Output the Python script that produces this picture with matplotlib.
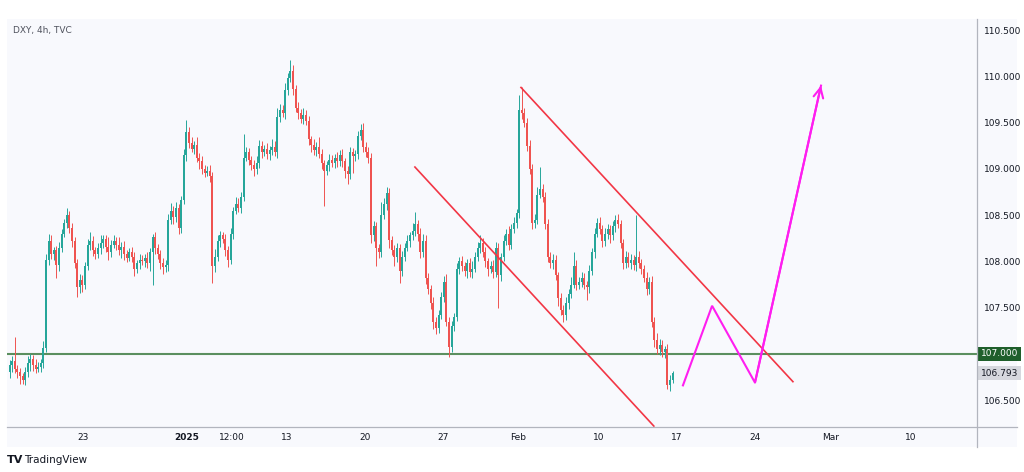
import matplotlib
matplotlib.use("Agg")
import numpy as np
import matplotlib.pyplot as plt
from matplotlib.lines import Line2D

# DXY, 4h candles (bar index on x, weekend gaps removed as on TradingView)
first_open = 106.80
closes = [
    106.88, 106.92, 106.84, 106.80, 106.76, 106.72, 106.80, 106.90, 106.95, 106.88,
    106.84, 106.86, 106.90, 107.06, 108.02, 108.22, 108.08, 108.12, 107.96, 108.15,
    108.30, 108.42, 108.50, 108.36, 108.22, 107.98, 107.72, 107.80, 107.75, 107.95,
    108.18, 108.22, 108.12, 108.08, 108.14, 108.20, 108.24, 108.16, 108.10, 108.18,
    108.22, 108.18, 108.12, 108.16, 108.08, 108.04, 108.10, 108.05, 107.92, 107.98,
    108.02, 108.00, 108.04, 107.98, 108.10, 108.26, 108.14, 108.08, 107.98, 107.94,
    107.96, 108.45, 108.55, 108.48, 108.58, 108.36, 108.66, 109.15, 109.40, 109.28,
    109.22, 109.26, 109.12, 109.08, 109.00, 108.96, 108.98, 108.92, 107.95, 108.05,
    108.22, 108.28, 108.24, 108.12, 108.02, 108.30, 108.55, 108.62, 108.58, 108.70,
    109.12, 109.18, 109.10, 109.04, 109.00, 109.06, 109.25, 109.18, 109.22, 109.16,
    109.20, 109.24, 109.18, 109.56, 109.64, 109.60, 109.85, 109.98, 110.06, 109.86,
    109.66, 109.60, 109.54, 109.58, 109.52, 109.32, 109.26, 109.20, 109.24, 109.16,
    109.06, 108.98, 109.04, 109.10, 109.06, 109.12, 109.08, 109.15, 109.08, 108.98,
    108.94, 109.18, 109.14, 109.16, 109.35, 109.42, 109.24, 109.18, 109.12, 108.28,
    108.38, 108.15, 108.10, 108.50, 108.62, 108.74, 108.23, 108.12, 108.05, 108.15,
    107.90, 108.05, 108.15, 108.22, 108.28, 108.33, 108.40, 108.30, 108.10, 108.22,
    107.82, 107.70, 107.55, 107.35, 107.28, 107.42, 107.62, 107.78, 107.35, 107.08,
    107.30, 107.40, 107.92, 108.00, 107.95, 107.90, 107.98, 107.88, 107.92, 108.05,
    108.15, 108.20, 108.10, 108.00, 107.92, 107.95, 107.88, 108.15, 107.85, 108.05,
    108.22, 108.30, 108.18, 108.35, 108.42, 108.52, 109.64, 109.60, 109.50, 109.25,
    109.00, 108.42, 108.45, 108.72, 108.78, 108.70, 108.40, 108.05, 107.98, 108.02,
    107.85, 107.60, 107.48, 107.42, 107.55, 107.65, 107.75, 107.95, 107.75, 107.78,
    107.82, 107.75, 107.72, 107.90, 108.10, 108.30, 108.42, 108.35, 108.22, 108.30,
    108.35, 108.28, 108.38, 108.45, 108.40, 108.20, 107.98, 108.05, 107.98, 108.02,
    107.96, 108.05, 107.98, 107.92, 107.82, 107.70, 107.78, 107.35, 107.15, 107.05,
    107.10, 107.02, 107.05, 106.66, 106.72, 106.793,
]
# wick lengths above / below the body, in hundredths
up_wick = [
    5, 6, 26, 4, 5, 3, 6, 8, 5, 4, 6, 5, 4, 8, 6, 8,
    6, 4, 5, 6, 5, 4, 8, 5, 6, 4, 5, 6, 5, 4, 6, 10,
    5, 4, 6, 8, 5, 4, 10, 5, 6, 4, 8, 5, 6, 4, 5, 6,
    5, 4, 6, 5, 4, 6, 5, 4, 6, 5, 4, 6, 5, 6, 8, 5,
    6, 4, 5, 6, 13, 5, 6, 4, 8, 5, 6, 4, 5, 6, 5, 8,
    6, 5, 4, 6, 5, 6, 4, 8, 6, 5, 26, 6, 5, 4, 6, 8,
    6, 5, 4, 6, 5, 8, 6, 10, 6, 5, 8, 6, 12, 6, 5, 6,
    5, 8, 6, 5, 4, 6, 5, 10, 6, 4, 5, 6, 5, 4, 6, 5,
    6, 4, 5, 6, 5, 4, 6, 6, 8, 5, 6, 5, 6, 5, 4, 14,
    6, 6, 5, 4, 6, 5, 4, 6, 5, 6, 4, 8, 13, 5, 6, 8,
    6, 5, 4, 6, 5, 6, 5, 6, 8, 5, 6, 4, 6, 5, 6, 4,
    5, 6, 8, 5, 6, 8, 5, 6, 4, 5, 6, 6, 5, 4, 6, 5,
    8, 5, 6, 5, 16, 24, 6, 5, 6, 5, 6, 8, 24, 6, 5, 6,
    5, 6, 5, 4, 6, 5, 6, 5, 8, 15, 6, 5, 6, 5, 4, 6,
    5, 6, 5, 6, 4, 6, 5, 4, 6, 5, 6, 5, 4, 6, 5, 6,
    5, 45, 6, 5, 4, 6, 5, 6, 5, 8, 6, 5, 4, 6, 5, 2,
]
down_wick = [
    6, 8, 5, 6, 8, 4, 6, 5, 8, 6, 5, 4, 6, 5, 4, 6,
    5, 6, 14, 6, 5, 4, 6, 5, 6, 5, 10, 6, 8, 5, 4, 6,
    6, 5, 4, 6, 5, 6, 8, 5, 4, 6, 5, 8, 6, 5, 4, 6,
    8, 5, 6, 4, 6, 5, 8, 35, 6, 5, 6, 8, 5, 6, 5, 8,
    5, 6, 5, 4, 6, 5, 4, 6, 5, 8, 6, 5, 4, 6, 18, 6,
    5, 6, 4, 6, 8, 5, 6, 4, 5, 6, 5, 4, 6, 5, 8, 6,
    5, 6, 4, 5, 6, 5, 4, 6, 5, 4, 6, 5, 4, 6, 5, 6,
    4, 6, 5, 6, 8, 5, 6, 4, 6, 38, 5, 6, 4, 5, 6, 5,
    6, 8, 10, 5, 18, 6, 5, 4, 6, 5, 6, 8, 6, 20, 6, 5,
    4, 6, 8, 5, 10, 6, 13, 6, 5, 4, 6, 5, 6, 8, 6, 5,
    6, 5, 6, 8, 6, 5, 4, 6, 5, 11, 6, 5, 4, 6, 5, 6,
    8, 5, 6, 4, 5, 6, 5, 6, 8, 5, 6, 5, 35, 6, 5, 4,
    6, 5, 4, 6, 5, 6, 5, 6, 5, 7, 6, 5, 4, 6, 5, 6,
    5, 6, 5, 8, 6, 7, 5, 6, 5, 4, 6, 5, 6, 5, 14, 6,
    5, 6, 4, 5, 6, 5, 6, 8, 5, 6, 4, 5, 6, 5, 4, 6,
    5, 6, 5, 6, 4, 6, 5, 6, 8, 5, 6, 5, 6, 4, 6, 3,
]

level = 107.000
last_price = 106.793

tick_bars = [28.2, 68.2, 85.5, 106.7, 136.7, 166.7, 195.5, 226.7, 256.7, 286.7, 315.9, 346.7]
tick_labels = ["23", "2025", "12:00", "13", "20", "27", "Feb", "10", "17", "24", "Mar", "10"]
price_ticks = [106.5, 107.0, 107.5, 108.0, 108.5, 109.0, 109.5, 110.0, 110.5]

# drawings: descending channel and projected path
lower_bars = [155.9, 247.8]
lower_prices = [109.02, 106.22]
upper_bars = [196.7, 301.3]
upper_prices = [109.88, 106.70]
path_bars = [259.0, 270.2, 286.7, 312.1]
path_prices = [106.66, 107.52, 106.69, 109.90]

UP = "#26a69a"
DOWN = "#ef5350"
PANEL = "#f8f9fd"
AXIS = "#b2b5be"
TEXT = "#131722"

W, H = 1024, 472
fig = plt.figure(figsize=(W / 100, H / 100), dpi=100)
fig.patch.set_facecolor("white")
fig.add_artist(plt.Rectangle((7 / W, 25 / H), 1010 / W, 428 / H,
                             transform=fig.transFigure, facecolor=PANEL,
                             edgecolor="none", zorder=0))

ax = fig.add_axes([7 / W, 45 / H, 970 / W, 408 / H])
ax.set_facecolor("none")

closes = np.array(closes)
opens = np.concatenate([[first_open], closes[:-1]])
body_top = np.maximum(opens, closes)
body_bot = np.minimum(opens, closes)
highs = body_top + np.array(up_wick) / 100
lows = body_bot - np.array(down_wick) / 100
x = np.arange(len(closes))
colors = np.where(closes >= opens, UP, DOWN)

ax.vlines(x, lows, highs, colors=colors, linewidth=0.7, zorder=3)
ax.bar(x, np.maximum(body_top - body_bot, 0.012), bottom=body_bot, width=0.8,
       color=colors, linewidth=0, zorder=4)

ax.axhline(level, color="#5b8f5f", linewidth=1.5, zorder=2)
ax.plot(lower_bars, lower_prices, color="#f23645", linewidth=1.2, zorder=5)
ax.plot(upper_bars, upper_prices, color="#f23645", linewidth=1.2, zorder=5)
ax.plot(path_bars, path_prices, color="#ff1ef0", linewidth=1.5, zorder=6,
        solid_joinstyle="miter")
ax.annotate("", xy=(path_bars[-1], path_prices[-1]),
            xytext=(path_bars[-2], path_prices[-2]),
            arrowprops=dict(arrowstyle="->,head_length=0.7,head_width=0.35",
                            color="#ff1ef0", lw=1.5, shrinkA=0, shrinkB=0),
            zorder=6)

ax.set_xlim(-1, 372.1)
ax.set_ylim(106.21, 110.62)

for side in ["top", "left", "right", "bottom"]:
    ax.spines[side].set_visible(False)

# the 107.000 scale label is covered by the level box, as on the original
ax.yaxis.tick_right()
ax.set_yticks(price_ticks)
ax.set_yticklabels(["" if p == level else f"{p:.3f}" for p in price_ticks])
ax.tick_params(axis="y", length=0, pad=5, labelsize=6.5, labelcolor=TEXT)
ax.set_xticks(tick_bars)
ax.set_xticklabels(tick_labels)
ax.tick_params(axis="x", length=0, pad=4.5, labelsize=6.5, labelcolor=TEXT)
for lbl in ax.get_xticklabels():
    if lbl.get_text() == "2025":
        lbl.set_fontweight("bold")

# axis lines like the TradingView frame
fig.add_artist(Line2D([7 / W, 1017 / W], [45 / H, 45 / H], color=AXIS,
                      linewidth=0.9, transform=fig.transFigure))
fig.add_artist(Line2D([977 / W, 977 / W], [25 / H, 453 / H], color=AXIS,
                      linewidth=0.9, transform=fig.transFigure))

# price labels on the scale
ytr = ax.get_yaxis_transform()
ax.text(1.004, level, f"{level:.3f}", transform=ytr, ha="left", va="center",
        fontsize=6.5, color="white", zorder=10, clip_on=False,
        bbox=dict(boxstyle="square,pad=0.3", fc="#1f5f2b", ec="none"))
ax.text(1.004, last_price, f"{last_price:.3f}", transform=ytr, ha="left",
        va="center", fontsize=6.5, color=TEXT, zorder=10, clip_on=False,
        bbox=dict(boxstyle="square,pad=0.3", fc="#d6d8de", ec="none"))

fig.text(13 / W, 1 - 30 / H, "DXY, 4h, TVC", fontsize=6.5, color="#50535e",
         va="center", ha="left")
fig.text(7 / W, 1 - 460 / H, "TV", fontsize=8, fontweight="bold", color=TEXT,
         va="center", ha="left")
fig.text(24 / W, 1 - 460 / H, "TradingView", fontsize=7.5, color=TEXT,
         va="center", ha="left")

fig.savefig("out.png", dpi=100)
